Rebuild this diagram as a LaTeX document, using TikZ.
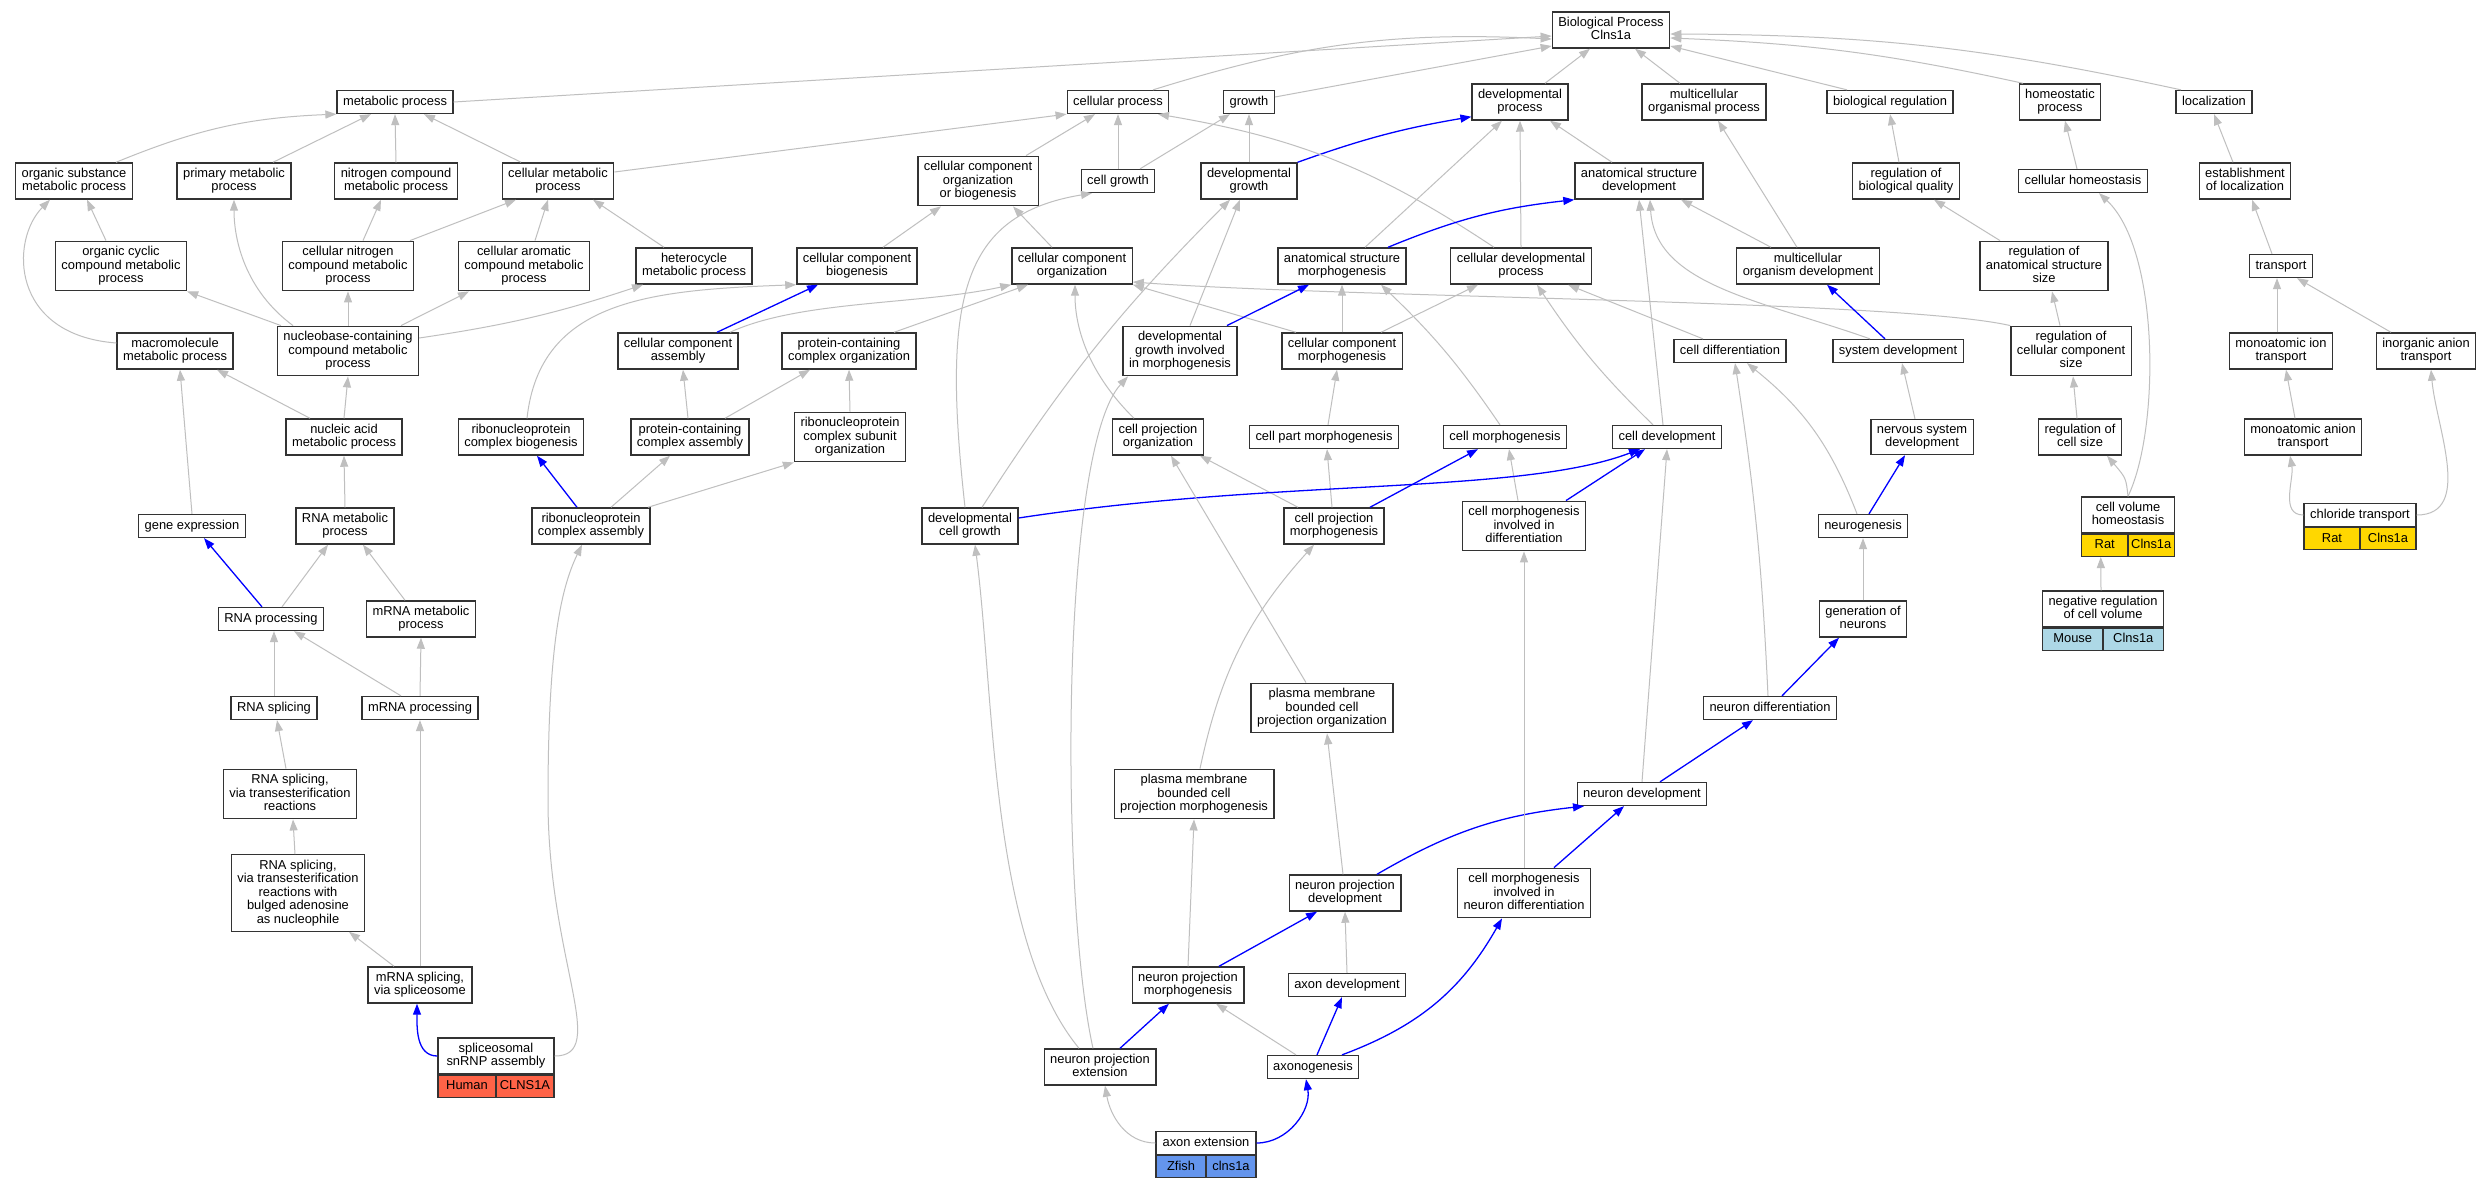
\documentclass[tikz,border=0pt]{standalone}
\usepackage{fontspec}
\setmainfont{Liberation Sans}
\usetikzlibrary{arrows.meta}
\definecolor{rat}{HTML}{FFD700}
\definecolor{mouse}{HTML}{ADD8E6}
\definecolor{human}{HTML}{FF6347}
\definecolor{zfish}{HTML}{6495ED}
\newcommand{\gofont}{\fontsize{12.9}{13.4}\selectfont}
\newcommand{\gostrut}{\rule[-2.8pt]{0pt}{12.4pt}}
\begin{document}
\begin{tikzpicture}[x=1pt,y=-1pt,
  term/.style={draw=black!80, line width=1.3pt, fill=white, align=center, font=\gofont,
    inner xsep=6pt, inner ysep=5.3pt, execute at begin node=\gostrut, execute at end node=\gostrut},
  taxon/.style={draw=black!80, line width=1.3pt, font=\gofont, inner sep=0pt,
    minimum height=22pt, text height=9.4pt, text depth=2.8pt},
  golink/.style={draw=gray!50, line width=1pt, -{Triangle[length=11pt,width=8pt]}},
  gohot/.style={draw=blue, line width=1.3pt, -{Triangle[length=11pt,width=8pt]}}]
\useasboundingbox[fill=white] (0,0) rectangle (2485,1187);

\node[term] (bp) at (1611,30) {Biological Process\\Clns1a};

\node[term] (meta) at (395,102) {metabolic process};
\node[term] (cellp) at (1118,102) {cellular process};
\node[term] (growth) at (1249,102) {growth};
\node[term] (devp) at (1520,102) {developmental\\process};
\node[term] (mcop) at (1704,102) {multicellular\\organismal process};
\node[term] (bioreg) at (1890,102) {biological regulation};
\node[term] (homp) at (2060,102) {homeostatic\\process};
\node[term] (loc) at (2214,102) {localization};

\node[term] (orgsub) at (74,181) {organic substance\\metabolic process};
\node[term] (primary) at (234,181) {primary metabolic\\process};
\node[term] (nitro) at (396,181) {nitrogen compound\\metabolic process};
\node[term] (cellmet) at (558,181) {cellular metabolic\\process};
\node[term] (ccob) at (978,181) {cellular component\\organization\\or biogenesis};
\node[term] (cgrowth) at (1118,181) {cell growth};
\node[term] (devgrowth) at (1249,181) {developmental\\growth};
\node[term] (asd) at (1639,181) {anatomical structure\\development};
\node[term] (rbq) at (1906,181) {regulation of\\biological quality};
\node[term] (chomeo) at (2083,181) {cellular homeostasis};
\node[term] (estloc) at (2245,181) {establishment\\of localization};

\node[term] (orgcyc) at (121,266) {organic cyclic\\compound metabolic\\process};
\node[term] (cnitro) at (348,266) {cellular nitrogen\\compound metabolic\\process};
\node[term] (carom) at (524,266) {cellular aromatic\\compound metabolic\\process};
\node[term] (hetero) at (694,266) {heterocycle\\metabolic process};
\node[term] (ccb) at (857,266) {cellular component\\biogenesis};
\node[term] (cco) at (1072,266) {cellular component\\organization};
\node[term] (asm) at (1342,266) {anatomical structure\\morphogenesis};
\node[term] (cdp) at (1521,266) {cellular developmental\\process};
\node[term] (mod) at (1808,266) {multicellular\\organism development};
\node[term] (rass) at (2044,266) {regulation of\\anatomical structure\\size};
\node[term] (transport) at (2281,266) {transport};

\node[term] (macro) at (175,351) {macromolecule\\metabolic process};
\node[term] (nucleo) at (348,351) {nucleobase-containing\\compound metabolic\\process};
\node[term] (cca) at (678,351) {cellular component\\assembly};
\node[term] (pcco) at (849,351) {protein-containing\\complex organization};
\node[term] (dgim) at (1180,351) {developmental\\growth involved\\in morphogenesis};
\node[term] (ccm) at (1342,351) {cellular component\\morphogenesis};
\node[term] (celldiff) at (1730,351) {cell differentiation};
\node[term] (sysdev) at (1898,351) {system development};
\node[term] (rccs) at (2071,351) {regulation of\\cellular component\\size};
\node[term] (mit) at (2281,351) {monoatomic ion\\transport};
\node[term] (iat) at (2426,351) {inorganic anion\\transport};

\node[term] (nucacid) at (344,437) {nucleic acid\\metabolic process};
\node[term] (rcb) at (521,437) {ribonucleoprotein\\complex biogenesis};
\node[term] (pcca) at (690,437) {protein-containing\\complex assembly};
\node[term] (rcso) at (850,437) {ribonucleoprotein\\complex subunit\\organization};
\node[term] (cpo) at (1158,437) {cell projection\\organization};
\node[term] (cpartm) at (1324,437) {cell part morphogenesis};
\node[term] (cmorph) at (1505,437) {cell morphogenesis};
\node[term] (celldev) at (1667,437) {cell development};
\node[term] (nsd) at (1922,437) {nervous system\\development};
\node[term] (rcs) at (2080,437) {regulation of\\cell size};
\node[term] (mat) at (2303,437) {monoatomic anion\\transport};

\node[term] (geneexp) at (192,526) {gene expression};
\node[term] (rnamet) at (345,526) {RNA metabolic\\process};
\node[term] (rca) at (591,526) {ribonucleoprotein\\complex assembly};
\node[term] (dcg) at (970,526) {developmental\\cell growth};
\node[term] (cpm) at (1334,526) {cell projection\\morphogenesis};
\node[term] (cmid) at (1524,526) {cell morphogenesis\\involved in\\differentiation};
\node[term] (neurogen) at (1863,526) {neurogenesis};
\node[term, minimum width=93pt] (cvh) at (2128,515) {cell volume\\homeostasis};
\node[taxon, fill=rat, minimum width=46.5pt, anchor=north west] (cvhsp) at (cvh.south west) {Rat};
\node[taxon, fill=rat, minimum width=46.5pt, anchor=north east] (cvhgn) at (cvh.south east) {Clns1a};
\node[term, minimum width=112pt] (chlor) at (2360,515) {chloride transport};
\node[taxon, fill=rat, minimum width=56pt, anchor=north west] (chlorsp) at (chlor.south west) {Rat};
\node[taxon, fill=rat, minimum width=56pt, anchor=north east] (chlorgn) at (chlor.south east) {Clns1a};

\node[term] (rnaproc) at (271,619) {RNA processing};
\node[term] (mrnamet) at (421,619) {mRNA metabolic\\process};
\node[term] (gon) at (1863,619) {generation of\\neurons};
\node[term, minimum width=121pt] (negreg) at (2103,609) {negative regulation\\of cell volume};
\node[taxon, fill=mouse, minimum width=60.5pt, anchor=north west] (negregsp) at (negreg.south west) {Mouse};
\node[taxon, fill=mouse, minimum width=60.5pt, anchor=north east] (negreggn) at (negreg.south east) {Clns1a};

\node[term] (rnasplice) at (274,708) {RNA splicing};
\node[term] (mrnaproc) at (420,708) {mRNA processing};
\node[term] (pmbcpo) at (1322,708) {plasma membrane\\bounded cell\\projection organization};
\node[term] (ndiff) at (1770,708) {neuron differentiation};

\node[term] (rsvt) at (290,794) {RNA splicing,\\via transesterification\\reactions};
\node[term] (pmbcpm) at (1194,794) {plasma membrane\\bounded cell\\projection morphogenesis};
\node[term] (ndev) at (1642,794) {neuron development};

\node[term] (rsbulge) at (298,893) {RNA splicing,\\via transesterification\\reactions with\\bulged adenosine\\as nucleophile};
\node[term] (npd) at (1345,893) {neuron projection\\development};
\node[term] (cmind) at (1524,893) {cell morphogenesis\\involved in\\neuron differentiation};

\node[term] (msplice) at (420,985) {mRNA splicing,\\via spliceosome};
\node[term] (npm) at (1188,985) {neuron projection\\morphogenesis};
\node[term] (axdev) at (1347,985) {axon development};

\node[term, minimum width=116pt] (snrnp) at (496,1056) {spliceosomal\\snRNP assembly};
\node[taxon, fill=human, minimum width=58pt, anchor=north west] (snrnpsp) at (snrnp.south west) {Human};
\node[taxon, fill=human, minimum width=58pt, anchor=north east] (snrnpgn) at (snrnp.south east) {CLNS1A};
\node[term] (npe) at (1100,1067) {neuron projection\\extension};
\node[term] (axgen) at (1313,1067) {axonogenesis};

\node[term, minimum width=100pt] (axext) at (1206,1143) {axon extension};
\node[taxon, fill=zfish, minimum width=50pt, anchor=north west] (axextsp) at (axext.south west) {Zfish};
\node[taxon, fill=zfish, minimum width=50pt, anchor=north east] (axextgn) at (axext.south east) {clns1a};

\draw[golink] (meta.east) -- ([yshift=-6pt]bp.west);
\draw[golink] ([xshift=35pt]cellp.north) to[bend left=10] ([yshift=-9pt]bp.west);
\draw[golink] ([yshift=5pt]growth.east) -- ([yshift=-16pt]bp.west);
\draw[golink] ([xshift=25pt]devp.north) -- ([xshift=-21pt]bp.south);
\draw[golink] ([xshift=-24pt]mcop.north) -- ([xshift=24pt]bp.south);
\draw[golink] ([xshift=-43pt]bioreg.north) -- ([yshift=-16pt]bp.east);
\draw[golink] ([xshift=-37pt]homp.north) to[bend right=5] ([yshift=-8pt]bp.east);
\draw[golink] ([xshift=-33pt]loc.north) to[bend right=6] ([yshift=-4pt]bp.east);

\draw[golink] ([xshift=42pt]orgsub.north) to[bend left=10] (meta.south west);
\draw[golink] ([xshift=39pt]primary.north) -- ([xshift=-24pt]meta.south);
\draw[golink] (nitro.north) -- (meta.south);
\draw[golink] ([xshift=-37pt]cellmet.north) -- ([xshift=29pt]meta.south);
\draw[golink] ([yshift=9pt]cellmet.east) -- (cellp.south west);
\draw[golink] ([xshift=48pt]ccob.north) -- ([xshift=-23pt]cellp.south);
\draw[golink] (cgrowth.north) -- (cellp.south);
\draw[golink] ([xshift=22pt]cgrowth.north) -- ([xshift=-19pt]growth.south);
\draw[golink] (devgrowth.north) -- (growth.south);
\draw[gohot] (devgrowth.north east) to[bend left=5] ([yshift=4pt]devp.south west);
\draw[golink] ([xshift=-27pt]asd.north) -- ([xshift=30pt]devp.south);
\draw[golink] ([xshift=23pt]asm.north) -- ([xshift=-18pt]devp.south);
\draw[golink] (cdp.north) -- (devp.south);
\draw[golink] ([xshift=-27pt]cdp.north) to[bend right=12] ([xshift=40pt]cellp.south);
\draw[golink] ([xshift=-11pt]mod.north) -- ([xshift=14pt]mcop.south);
\draw[golink] ([xshift=-7pt]rbq.north) -- (bioreg.south);
\draw[golink] ([xshift=-6pt]chomeo.north) -- ([xshift=5pt]homp.south);
\draw[golink] ([xshift=-12pt]estloc.north) -- (loc.south);

\draw[golink] ([xshift=-15pt]orgcyc.north) -- ([xshift=13pt]orgsub.south);
\draw[golink] ([yshift=8pt]macro.west) .. controls (10,335) and (10,240) .. ([xshift=-24pt]orgsub.south);
\draw[golink] ([xshift=15pt]cnitro.north) -- ([xshift=-15pt]nitro.south);
\draw[golink] ([xshift=62pt]cnitro.north) -- ([xshift=-42pt]cellmet.south);
\draw[golink] ([xshift=11pt]carom.north) -- ([xshift=-10pt]cellmet.south);
\draw[golink] ([xshift=-30pt]hetero.north) -- ([xshift=35pt]cellmet.south);
\draw[golink] ([xshift=26pt]ccb.north) -- ([xshift=-37pt]ccob.south);
\draw[golink] ([xshift=-20pt]cco.north) -- ([xshift=35pt]ccob.south);
\draw[gohot] ([xshift=46pt]asm.north) to[bend left=8] (asd.south west);
\draw[golink] ([xshift=-37pt]mod.north) -- ([xshift=42pt]asd.south);
\draw[golink] ([xshift=-44pt]rass.north) -- ([xshift=28pt]rbq.south);
\draw[golink] ([xshift=-9pt]transport.north) -- ([xshift=7pt]estloc.south);

\draw[golink] ([xshift=-67pt]nucleo.north) -- (orgcyc.south east);
\draw[golink] ([xshift=-55pt]nucleo.north) .. controls (245,290) and (234,240) .. (primary.south);
\draw[golink] (nucleo.north) -- (cnitro.south);
\draw[golink] ([xshift=53pt]nucleo.north) -- ([xshift=-55pt]carom.south);
\draw[golink] ([yshift=13pt]nucleo.east) to[bend right=5] ([xshift=-51pt]hetero.south);
\draw[gohot] ([xshift=39pt]cca.north) -- ([xshift=-39pt]ccb.south);
\draw[golink] ([xshift=52pt]cca.north) .. controls (800,300) and (920,305) .. (cco.south west);
\draw[golink] ([xshift=45pt]pcco.north) -- ([xshift=-44pt]cco.south);
\draw[golink] (rccs.north west) .. controls (1900,300) and (1350,298) .. ([yshift=-16pt]cco.east);
\draw[golink] ([xshift=-46pt]ccm.north) -- (cco.south east);
\draw[golink] ([xshift=-24pt]cpo.north) .. controls (1090,375) and (1075,330) .. ([xshift=3pt]cco.south);
\draw[gohot] ([xshift=47pt]dgim.north) -- ([xshift=-33pt]asm.south);
\draw[golink] ([xshift=10pt]dgim.north) -- ([xshift=-9pt]devgrowth.south);
\draw[golink] (ccm.north) -- (asm.south);
\draw[golink] ([xshift=39pt]ccm.north) -- ([xshift=-43pt]cdp.south);
\draw[golink] ([xshift=-27pt]celldiff.north) -- ([xshift=47pt]cdp.south);
\draw[gohot] ([xshift=-13pt]sysdev.north) -- ([xshift=19pt]mod.south);
\draw[golink] ([xshift=-28pt]sysdev.north) .. controls (1760,300) and (1655,285) .. ([xshift=11pt]asd.south);
\draw[golink] ([xshift=-11pt]rccs.north) -- ([xshift=8pt]rass.south);
\draw[golink] ([xshift=-4pt]mit.north) -- ([xshift=-4pt]transport.south);
\draw[golink] ([xshift=-35pt]iat.north) -- ([xshift=16pt]transport.south);

\draw[golink] (nucacid.north) -- (nucleo.south);
\draw[golink] ([xshift=-34pt]nucacid.north) -- ([xshift=42pt]macro.south);
\draw[golink] ([xshift=6pt]rcb.north) .. controls (540,300) and (650,290) .. (ccb.south west);
\draw[golink] ([xshift=-2pt]pcca.north) -- ([xshift=5pt]cca.south);
\draw[golink] ([xshift=35pt]pcca.north) -- ([xshift=-39pt]pcco.south);
\draw[golink] (rcso.north) -- (pcco.south);
\draw[golink] ([xshift=4pt]cpartm.north) -- ([xshift=-5pt]ccm.south);
\draw[golink] ([xshift=-5pt]cmorph.north) to[bend right=6] ([xshift=39pt]asm.south);
\draw[golink] ([xshift=-14pt]celldev.north) to[bend left=6] ([xshift=16pt]cdp.south);
\draw[golink] ([xshift=-4pt]celldev.north) -- (asd.south);
\draw[golink] ([xshift=-7pt]nsd.north) -- ([xshift=4pt]sysdev.south);
\draw[golink] ([xshift=-3pt]rcs.north) -- ([xshift=2pt]rccs.south);
\draw[golink] ([xshift=-8pt]mat.north) -- ([xshift=5pt]mit.south);

\draw[golink] (geneexp.north) -- ([xshift=5pt]macro.south);
\draw[golink] (rnamet.north) -- (nucacid.south);
\draw[gohot] ([xshift=-14pt]rca.north) -- ([xshift=16pt]rcb.south);
\draw[golink] ([xshift=20pt]rca.north) -- ([xshift=-20pt]pcca.south);
\draw[golink] ([xshift=57pt]rca.north) -- (rcso.south west);
\draw[golink] ([xshift=-5pt]dcg.north) .. controls (942,300) and (960,215) .. ([xshift=-26pt]cgrowth.south);
\draw[golink] ([xshift=12pt]dcg.north) to[bend left=6] ([xshift=-19pt]devgrowth.south);
\draw[golink] ([xshift=-2pt]cpm.north) -- ([xshift=3pt]cpartm.south);
\draw[golink] ([xshift=-36pt]cpm.north) -- ([xshift=42pt]cpo.south);
\draw[gohot] ([xshift=36pt]cpm.north) -- ([xshift=-27pt]cmorph.south);
\draw[golink] ([xshift=-6pt]cmid.north) -- ([xshift=4pt]cmorph.south);
\draw[gohot] ([xshift=42pt]cmid.north) -- ([xshift=-22pt]celldev.south);
\draw[gohot] ([yshift=8pt]dcg.east) .. controls (1280,478) and (1520,495) .. ([xshift=-27pt]celldev.south);
\draw[gohot] ([xshift=6pt]neurogen.north) -- ([xshift=-17pt]nsd.south);
\draw[golink] ([xshift=-6pt]neurogen.north) to[bend right=15] ([xshift=17pt]celldiff.south);
\draw[golink] (cvh.north) .. controls (2126,478) .. ([xshift=27pt]rcs.south);
\draw[golink] (cvh.north) .. controls (2160,430) and (2160,250) .. ([xshift=16pt]chomeo.south);
\draw[golink] (chlor.west) to[out=180,in=-80] ([xshift=-13pt]mat.south);
\draw[golink] (chlor.east) to[out=0,in=-85] ([xshift=5pt]iat.south);

\draw[gohot] ([xshift=-9pt]rnaproc.north) -- ([xshift=12pt]geneexp.south);
\draw[golink] ([xshift=11pt]rnaproc.north) -- ([xshift=-17pt]rnamet.south);
\draw[golink] ([xshift=-16pt]mrnamet.north) -- ([xshift=18pt]rnamet.south);
\draw[golink] (gon.north) -- (neurogen.south);
\draw[golink] ([xshift=-2pt]negreg.north) -- ([xshift=-4pt]cvhsp.south);

\draw[golink] (rnasplice.north) -- ([xshift=3pt]rnaproc.south);
\draw[golink] ([xshift=-19pt]mrnaproc.north) -- ([xshift=23pt]rnaproc.south);
\draw[golink] (mrnaproc.north) -- (mrnamet.south);
\draw[golink] ([xshift=-16pt]pmbcpo.north) -- ([xshift=13pt]cpo.south);
\draw[gohot] ([xshift=12pt]ndiff.north) -- ([xshift=-24pt]gon.south);
\draw[golink] ([xshift=-2pt]ndiff.north) to[bend right=3] ([xshift=5pt]celldiff.south);

\draw[golink] ([xshift=-4pt]rsvt.north) -- ([xshift=3pt]rnasplice.south);
\draw[golink] ([xshift=6pt]pmbcpm.north) to[bend left=15] ([xshift=-20pt]cpm.south);
\draw[golink] (ndev.north) -- (celldev.south);
\draw[gohot] ([xshift=18pt]ndev.north) -- ([xshift=-17pt]ndiff.south);

\draw[golink] ([xshift=-3pt]rsbulge.north) -- ([xshift=3pt]rsvt.south);
\draw[golink] ([xshift=-2pt]npd.north) -- ([xshift=5pt]pmbcpo.south);
\draw[gohot] ([xshift=32pt]npd.north) to[bend left=12] ([xshift=-58pt]ndev.south);
\draw[gohot] ([xshift=30pt]cmind.north) -- ([xshift=-18pt]ndev.south);
\draw[golink] (cmind.north) -- (cmid.south);

\draw[golink] ([xshift=-26pt]msplice.north) -- ([xshift=51pt]rsbulge.south);
\draw[golink] (msplice.north) -- (mrnaproc.south);
\draw[gohot] ([xshift=31pt]npm.north) -- ([xshift=-28pt]npd.south);
\draw[golink] (npm.north) -- (pmbcpm.south);
\draw[golink] (axdev.north) -- (npd.south);

\draw[gohot] (snrnp.west) to[out=180,in=-90] ([xshift=-3pt]msplice.south);
\draw[golink] (snrnp.east) .. controls (610,1056) and (548,960) .. (548,800) .. controls (548,650) and (560,590) .. ([xshift=-9pt]rca.south);
\draw[gohot] ([xshift=20pt]npe.north) -- ([xshift=-19pt]npm.south);
\draw[golink] ([xshift=-21pt]npe.north) .. controls (990,940) and (995,700) .. ([xshift=5pt]dcg.south);
\draw[golink] ([xshift=-7pt]npe.north) .. controls (1060,900) and (1060,450) .. ([xshift=-52pt]dgim.south);
\draw[golink] ([xshift=-17pt]axgen.north) -- ([xshift=28pt]npm.south);
\draw[gohot] ([xshift=4pt]axgen.north) -- ([xshift=-5pt]axdev.south);
\draw[gohot] ([xshift=29pt]axgen.north) to[bend right=20] ([xshift=-22pt]cmind.south);

\draw[golink] (axext.west) to[out=180,in=-80] ([xshift=5pt]npe.south);
\draw[gohot] (axext.east) to[out=0,in=-80] ([xshift=-7pt]axgen.south);
\end{tikzpicture}
\end{document}
